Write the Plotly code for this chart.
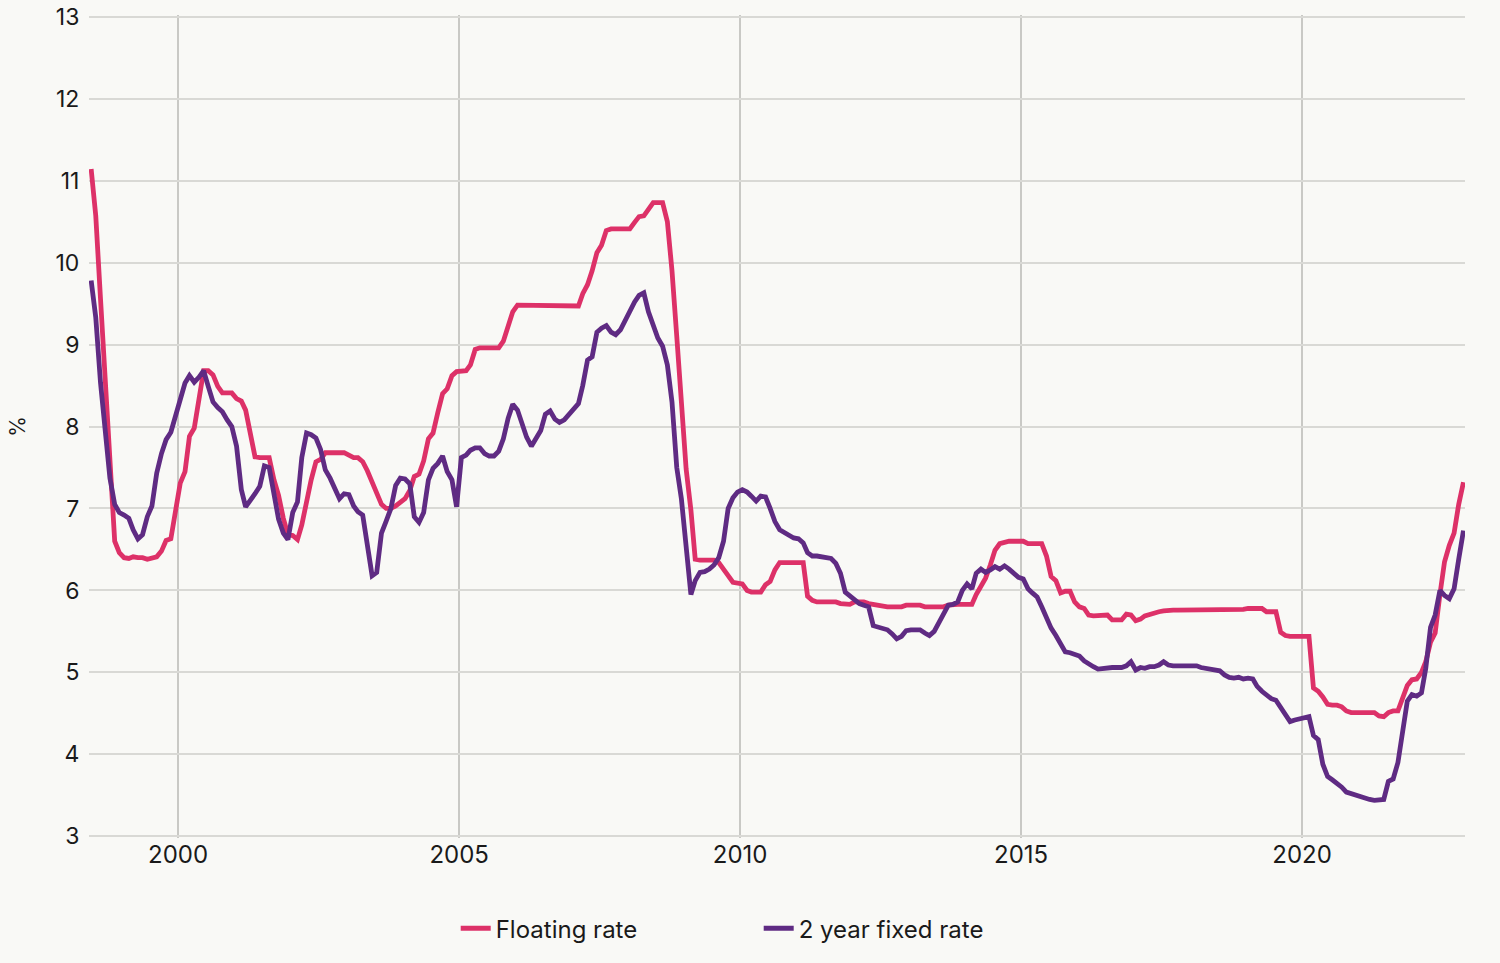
import pandas as pd
import plotly.graph_objects as go

# Monthly mortgage rates (%), June 1998 to November 2022
floating_rate = [
    # 1998 (Jun-Dec)
    11.14, 10.57, 9.55, 8.54, 7.53, 6.60, 6.46,
    # 1999
    6.40, 6.39, 6.41, 6.40, 6.40, 6.38, 6.39, 6.41, 6.48, 6.61, 6.63, 7.00,
    # 2000
    7.31, 7.45, 7.88, 7.98, 8.32, 8.68, 8.68, 8.63, 8.49, 8.41, 8.41, 8.41,
    # 2001
    8.34, 8.31, 8.20, 7.92, 7.63, 7.62, 7.62, 7.62, 7.35, 7.16, 6.88, 6.68,
    # 2002
    6.67, 6.62, 6.80, 7.12, 7.35, 7.57, 7.60, 7.68, 7.68, 7.68, 7.68, 7.68,
    # 2003
    7.65, 7.62, 7.62, 7.57, 7.46, 7.31, 7.16, 7.05, 7.00, 7.00, 7.03, 7.07,
    # 2004
    7.12, 7.22, 7.39, 7.42, 7.58, 7.85, 7.92, 8.17, 8.40, 8.46, 8.62, 8.67,
    # 2005
    8.68, 8.68, 8.75, 8.94, 8.96, 8.96, 8.96, 8.96, 8.96, 9.04, 9.22, 9.40,
    # 2006
    9.48, 9.48, 9.48, 9.48, 9.48, 9.48, 9.48, 9.48, 9.47, 9.47, 9.47, 9.47,
    # 2007
    9.47, 9.47, 9.62, 9.73, 9.90, 10.12, 10.21, 10.39, 10.41, 10.41, 10.41, 10.41,
    # 2008
    10.41, 10.49, 10.56, 10.57, 10.65, 10.73, 10.73, 10.73, 10.50, 9.90, 9.10, 8.20,
    # 2009
    7.48, 6.98, 6.38, 6.37, 6.37, 6.37, 6.37, 6.34, 6.25, 6.18, 6.10, 6.09,
    # 2010
    6.08, 6.00, 5.98, 5.98, 5.98, 6.07, 6.11, 6.25, 6.34, 6.34, 6.34, 6.34,
    # 2011
    6.34, 6.34, 5.93, 5.88, 5.86, 5.86, 5.86, 5.86, 5.86, 5.84, 5.83, 5.83,
    # 2012
    5.86, 5.86, 5.86, 5.84, 5.83, 5.81, 5.80, 5.80, 5.80, 5.80, 5.80, 5.82,
    # 2013
    5.82, 5.82, 5.82, 5.80, 5.80, 5.80, 5.80, 5.80, 5.82, 5.83, 5.83, 5.83,
    # 2014
    5.83, 5.83, 5.95, 6.06, 6.15, 6.31, 6.49, 6.57, 6.59, 6.60, 6.60, 6.60,
    # 2015
    6.60, 6.57, 6.57, 6.57, 6.57, 6.42, 6.17, 6.12, 5.97, 5.99, 5.99, 5.86,
    # 2016
    5.80, 5.78, 5.70, 5.69, 5.69, 5.70, 5.70, 5.64, 5.64, 5.64, 5.71, 5.70,
    # 2017
    5.63, 5.65, 5.69, 5.71, 5.73, 5.74, 5.75, 5.76, 5.76, 5.76, 5.76, 5.76,
    # 2018
    5.76, 5.76, 5.76, 5.77, 5.77, 5.77, 5.77, 5.77, 5.77, 5.77, 5.77, 5.77,
    # 2019
    5.78, 5.78, 5.78, 5.78, 5.74, 5.74, 5.74, 5.49, 5.45, 5.44, 5.44, 5.44,
    # 2020
    5.44, 5.44, 4.81, 4.77, 4.70, 4.61, 4.60, 4.60, 4.58, 4.53, 4.51, 4.51,
    # 2021
    4.51, 4.51, 4.51, 4.51, 4.47, 4.46, 4.51, 4.53, 4.53, 4.68, 4.84, 4.91,
    # 2022 (Jan-Nov)
    4.92, 5.00, 5.13, 5.37, 5.48, 5.95, 6.35, 6.55, 6.70, 7.05, 7.32,
]

fixed_2yr = [
    # 1998 (Jun-Dec)
    9.78, 9.33, 8.53, 7.88, 7.37, 7.05, 6.95,
    # 1999
    6.92, 6.88, 6.74, 6.63, 6.68, 6.90, 7.03, 7.43, 7.67, 7.84, 7.93, 8.12,
    # 2000
    8.34, 8.53, 8.62, 8.54, 8.60, 8.68, 8.49, 8.30, 8.23, 8.18, 8.08, 8.00,
    # 2001
    7.76, 7.23, 7.02, 7.09, 7.18, 7.27, 7.52, 7.50, 7.19, 6.87, 6.70, 6.62,
    # 2002
    6.95, 7.08, 7.62, 7.92, 7.90, 7.86, 7.72, 7.47, 7.37, 7.25, 7.12, 7.18,
    # 2003
    7.17, 7.03, 6.96, 6.92, 6.55, 6.18, 6.22, 6.70, 6.85, 7.00, 7.28, 7.37,
    # 2004
    7.36, 7.30, 6.90, 6.83, 6.95, 7.35, 7.49, 7.55, 7.64, 7.45, 7.35, 7.02,
    # 2005
    7.62, 7.65, 7.71, 7.74, 7.74, 7.67, 7.64, 7.64, 7.70, 7.85, 8.10, 8.27,
    # 2006
    8.20, 8.00, 7.87, 7.76, 7.85, 7.95, 8.15, 8.19, 8.09, 8.05, 8.08, 8.14,
    # 2007
    8.21, 8.28, 8.50, 8.81, 8.85, 9.15, 9.20, 9.23, 9.15, 9.12, 9.18, 9.30,
    # 2008
    9.43, 9.52, 9.60, 9.63, 9.40, 9.25, 9.08, 8.98, 8.75, 8.30, 7.50, 7.12,
    # 2009
    6.55, 5.95, 6.12, 6.22, 6.23, 6.26, 6.31, 6.40, 6.60, 7.00, 7.13, 7.20,
    # 2010
    7.23, 7.20, 7.15, 7.09, 7.15, 7.14, 7.00, 6.84, 6.74, 6.71, 6.68, 6.64,
    # 2011
    6.63, 6.58, 6.46, 6.42, 6.42, 6.41, 6.41, 6.39, 6.33, 6.21, 5.98, 5.94,
    # 2012
    5.89, 5.84, 5.82, 5.80, 5.57, 5.55, 5.54, 5.52, 5.47, 5.41, 5.44, 5.51,
    # 2013
    5.52, 5.52, 5.52, 5.48, 5.45, 5.50, 5.60, 5.72, 5.82, 5.83, 5.86, 6.00,
    # 2014
    6.08, 6.02, 6.21, 6.26, 6.22, 6.25, 6.29, 6.26, 6.30, 6.26, 6.20, 6.16,
    # 2015
    6.14, 6.02, 5.97, 5.92, 5.80, 5.65, 5.54, 5.45, 5.35, 5.25, 5.24, 5.22,
    # 2016
    5.20, 5.14, 5.10, 5.07, 5.04, 5.05, 5.05, 5.06, 5.06, 5.06, 5.08, 5.13,
    # 2017
    5.03, 5.06, 5.05, 5.07, 5.07, 5.09, 5.13, 5.09, 5.08, 5.08, 5.08, 5.08,
    # 2018
    5.08, 5.08, 5.06, 5.05, 5.04, 5.03, 5.02, 4.97, 4.94, 4.93, 4.94, 4.92,
    # 2019
    4.93, 4.92, 4.83, 4.77, 4.73, 4.68, 4.66, 4.57, 4.47, 4.40, 4.42, 4.43,
    # 2020
    4.45, 4.46, 4.23, 4.18, 3.88, 3.73, 3.69, 3.65, 3.60, 3.54, 3.52, 3.51,
    # 2021
    3.49, 3.46, 3.45, 3.44, 3.44, 3.45, 3.67, 3.70, 3.90, 4.27, 4.65, 4.73,
    # 2022 (Jan-Nov)
    4.71, 4.75, 5.05, 5.55, 5.70, 6.00, 5.94, 5.90, 6.02, 6.38, 6.73,
]

assert len(floating_rate) == 294, len(floating_rate)
assert len(fixed_2yr) == 294, len(fixed_2yr)

series_names = ["Floating rate", "2 year fixed rate"]
series_colors = ["#DD3168", "#5F2B83"]
year_ticks = ["2000", "2005", "2010", "2015", "2020"]
y_ticks = [3, 4, 5, 6, 7, 8, 9, 10, 11, 12, 13]

dates = pd.date_range("1998-06-01", periods=len(floating_rate), freq="MS") + pd.Timedelta(days=14)

BG = "#F9F9F6"
FONT = "Inter, Lato, sans-serif"

fig = go.Figure()
for name, vals, col in zip(series_names, [floating_rate, fixed_2yr], series_colors):
    fig.add_trace(go.Scatter(
        x=dates, y=vals, mode="lines", name=name,
        line=dict(color=col, width=4.8),
    ))

fig.update_layout(
    width=1500, height=963,
    margin=dict(l=89, r=35, t=15, b=122),
    paper_bgcolor=BG, plot_bgcolor=BG,
    font=dict(family=FONT, color="#1a1a1a", size=24),
    showlegend=True,
    legend=dict(
        orientation="h", x=0.2665, xanchor="left", y=-0.0828, yanchor="top",
        font=dict(size=24, color="#1a1a1a"),
        entrywidth=258, entrywidthmode="pixels",
        bgcolor="rgba(0,0,0,0)", itemsizing="constant",
    ),
)

fig.update_xaxes(
    type="date",
    range=["1998-06-01", "2022-11-25"],
    tickvals=[f"{y}-01-01" for y in year_ticks],
    ticktext=year_ticks,
    showgrid=True, gridcolor="#C9C9C5", gridwidth=1.5,
    zeroline=False, showline=False,
    ticks="", 
    tickfont=dict(size=24),
    automargin=False,
)

fig.update_yaxes(
    range=[2.98, 13.02],
    tickvals=y_ticks,
    showgrid=True, gridcolor="#D9D9D5", gridwidth=1.5,
    zeroline=False, showline=False,
    ticks="outside", ticklen=4, tickcolor=BG,
    tickfont=dict(size=23),
    ticklabeloverflow="allow",
    automargin=False,
    title=dict(text="%", font=dict(size=21), standoff=24),
)

fig.write_html(
    "out.html",
    config={"displayModeBar": False},
    post_script="document.body.style.margin='0';document.body.style.background='%s';" % BG,
)
